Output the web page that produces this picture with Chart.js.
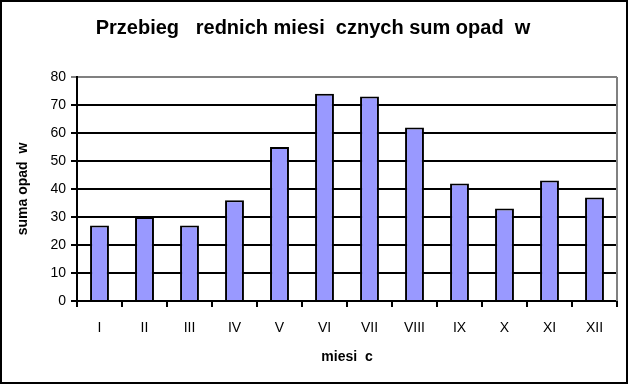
<!DOCTYPE html>
<html>
<head>
<meta charset="utf-8">
<script src="https://cdn.jsdelivr.net/npm/chart.js@4"></script>
<style>
  body { margin: 0; background: #fff; }
  #wrap { width: 628px; height: 384px; }
</style>
</head>
<body>
<div id="wrap"><canvas id="rain-chart" width="628" height="384"></canvas></div>
<script>
// Monthly rainfall sums
const months = ['I', 'II', 'III', 'IV', 'V', 'VI', 'VII', 'VIII', 'IX', 'X', 'XI', 'XII'];
const rainfall = [27, 30, 27, 36, 55, 74, 73, 62, 42, 33, 43, 37];
const yTicks = [0, 10, 20, 30, 40, 50, 60, 70, 80];

const chartTitle = 'Przebieg   rednich miesi  cznych sum opad  w';
const xTitle = 'miesi  c';
const yTitle = 'suma opad  w';

const FONT = 'Liberation Sans, Arial, Helvetica, sans-serif';

// frame around the page + gray right border of the plot
const framePlugin = {
  id: 'frame',
  afterDraw(chart) {
    const ctx = chart.ctx;
    const a = chart.chartArea;
    ctx.save();
    ctx.strokeStyle = '#808080';
    ctx.lineWidth = 2;
    ctx.beginPath();
    ctx.moveTo(a.right, a.top);
    ctx.lineTo(a.right, a.bottom);
    ctx.stroke();
    ctx.strokeStyle = '#000';
    ctx.lineWidth = 2;
    ctx.strokeRect(1, 1, chart.width - 2, chart.height - 2);
    ctx.restore();
  }
};

const rainCtx = document.getElementById('rain-chart').getContext('2d');
const rainChart = new Chart(rainCtx, {
  type: 'bar',
  data: {
    labels: months,
    datasets: [{
      label: yTitle,
      data: rainfall,
      backgroundColor: '#9999ff',
      borderColor: '#000',
      borderWidth: 2,
      categoryPercentage: 1,
      barPercentage: 0.42
    }]
  },
  options: {
    responsive: false,
    animation: false,
    layout: { padding: { left: 9, right: 11, top: 0, bottom: 0 } },
    plugins: {
      legend: { display: false },
      tooltip: { enabled: false },
      title: {
        display: true,
        text: chartTitle,
        color: '#000',
        font: { family: FONT, size: 20, weight: 'bold' },
        padding: { top: 16, bottom: 37 }
      }
    },
    scales: {
      x: {
        afterFit(scale) { scale.height = 83; },
        grid: {
          offset: true,
          drawOnChartArea: false,
          color: '#000',
          lineWidth: 2,
          tickLength: 6
        },
        border: { color: '#000', width: 2 },
        ticks: {
          color: '#000',
          padding: 13,
          font: { family: FONT, size: 14 }
        },
        title: {
          display: true,
          text: xTitle,
          color: '#000',
          font: { family: FONT, size: 14, weight: 'bold' },
          padding: { top: 0, bottom: 18 }
        }
      },
      y: {
        min: 0,
        max: 80,
        afterFit(scale) { scale.width = 68; },
        afterBuildTicks(scale) { scale.ticks = yTicks.map(v => ({ value: v })); },
        grid: {
          color: c => (c.tick && c.tick.value === 80 ? '#808080' : '#000'),
          lineWidth: 2,
          tickLength: 6
        },
        border: { color: '#000', width: 2 },
        ticks: {
          color: '#000',
          padding: 5,
          font: { family: FONT, size: 14 }
        },
        title: {
          display: true,
          text: yTitle,
          color: '#000',
          font: { family: FONT, size: 14, weight: 'bold' },
          padding: { top: 6, bottom: 0 }
        }
      }
    }
  },
  plugins: [framePlugin]
});
</script>
</body>
</html>
